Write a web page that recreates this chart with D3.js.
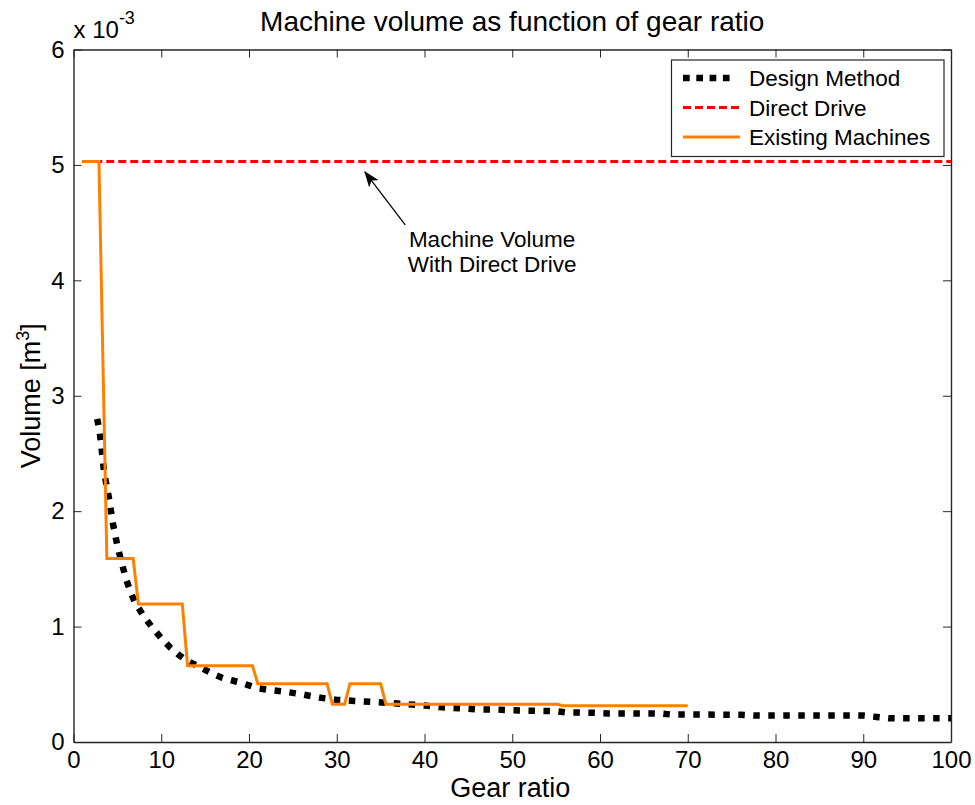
<!DOCTYPE html>
<html>
<head>
<meta charset="utf-8">
<script src="https://cdn.jsdelivr.net/npm/d3@7"></script>
<style>
  html, body { margin: 0; padding: 0; background: #fff; }
  svg { display: block; font-family: "Liberation Sans", Arial, Helvetica, sans-serif; }
</style>
</head>
<body>
<svg id="chart" width="975" height="805"></svg>
<script>
// Volumes are given in units of 1e-3 m^3 (axis multiplier shown at top-left).

// Design Method curve
const designGear = [2.7, 3, 3.5, 4, 4.5, 5, 5.5, 6, 6.5, 7, 7.5, 8, 9, 10, 11, 12, 13, 14, 15, 16, 17, 18, 19, 20,
  21, 22, 24, 26, 28, 30, 32, 34, 36, 38, 40, 42, 44, 46, 48, 50, 52, 55, 56, 59, 61, 67, 68, 76, 77.5, 90, 91.5, 93, 100];
const designVolume = [2.80, 2.68, 2.33, 2.13, 1.89, 1.70, 1.55, 1.41, 1.30, 1.21, 1.15, 1.09, 0.99, 0.90, 0.82, 0.755,
  0.70, 0.665, 0.625, 0.585, 0.555, 0.535, 0.515, 0.49, 0.465, 0.455, 0.437, 0.413, 0.385, 0.365, 0.356, 0.347, 0.339,
  0.327, 0.316, 0.300, 0.293, 0.283, 0.282, 0.275, 0.271, 0.267, 0.257, 0.254, 0.248, 0.247, 0.239, 0.236, 0.229,
  0.229, 0.217, 0.205, 0.205];

// Direct Drive reference level
const directGear = [1, 100];
const directVolume = [5.03, 5.03];

// Existing Machines (stepwise)
const existingGear = [1, 2.9, 3.8, 6.8, 7.4, 12.4, 13.0, 20.4, 21.0, 28.9, 29.5, 30.9, 31.5, 35.0, 35.6, 55.2, 55.7, 70];
const existingVolume = [5.03, 5.03, 1.59, 1.59, 1.195, 1.195, 0.66, 0.66, 0.505, 0.505, 0.326, 0.326, 0.505, 0.505,
  0.326, 0.326, 0.314, 0.314];

// Axis ticks
const xTicks = [0, 10, 20, 30, 40, 50, 60, 70, 80, 90, 100];
const yTicks = [0, 1, 2, 3, 4, 5, 6];

const legendLabels = ["Design Method", "Direct Drive", "Existing Machines"];

const svg = d3.select("#chart");
const plotLeft = 73.5, plotRight = 951, plotTop = 49.5, plotBottom = 742;

const x = d3.scaleLinear().domain([0, 100]).range([plotLeft, plotRight]);
const y = d3.scaleLinear().domain([0, 6]).range([plotBottom, plotTop]);

const zip = (xs, ys) => xs.map((g, i) => [g, ys[i]]);
const line = d3.line().x(d => x(d[0])).y(d => y(d[1]));

// Axes with inward ticks on all four sides
const tickLen = 8;
const axisStyle = g => {
  g.select(".domain").attr("stroke", "#262626").attr("stroke-width", 1.4);
  g.selectAll(".tick line").attr("stroke", "#262626").attr("stroke-width", 1);
  g.selectAll(".tick text").attr("fill", "#000").style("font-size", "24px")
    .style("font-family", "'Liberation Sans', Arial, Helvetica, sans-serif");
};

svg.append("g").attr("transform", `translate(0,${plotBottom})`)
  .call(d3.axisBottom(x).tickValues(xTicks).tickFormat(d3.format("d"))
    .tickSize(-tickLen).tickPadding(9).tickSizeOuter(0))
  .call(axisStyle);
svg.append("g").attr("transform", `translate(0,${plotTop})`)
  .call(d3.axisTop(x).tickValues(xTicks).tickSize(-tickLen).tickFormat("").tickSizeOuter(0))
  .call(axisStyle);
svg.append("g").attr("transform", `translate(${plotLeft},0)`)
  .call(d3.axisLeft(y).tickValues(yTicks).tickFormat(d3.format("d"))
    .tickSize(-tickLen).tickPadding(9).tickSizeOuter(0))
  .call(axisStyle);
svg.append("g").attr("transform", `translate(${plotRight},0)`)
  .call(d3.axisRight(y).tickValues(yTicks).tickSize(-tickLen).tickFormat("").tickSizeOuter(0))
  .call(axisStyle);

// Data lines
svg.append("path").datum(zip(directGear, directVolume))
  .attr("d", line).attr("fill", "none").attr("stroke", "#ff0000")
  .attr("stroke-width", 3).attr("stroke-dasharray", "8 4");

svg.append("path").datum(zip(designGear, designVolume))
  .attr("d", line).attr("fill", "none").attr("stroke", "#000")
  .attr("stroke-width", 6.5).attr("stroke-dasharray", "6.5 8.5");

svg.append("path").datum(zip(existingGear, existingVolume))
  .attr("d", line).attr("fill", "none").attr("stroke", "#ff8000")
  .attr("stroke-width", 3).attr("stroke-linejoin", "miter");

// Annotation arrow pointing to the direct drive level
const defs = svg.append("defs");
defs.append("marker").attr("id", "arrowhead")
  .attr("viewBox", "0 0 16 12").attr("refX", 15).attr("refY", 6)
  .attr("markerWidth", 16).attr("markerHeight", 12)
  .attr("markerUnits", "userSpaceOnUse").attr("orient", "auto")
  .append("path").attr("d", "M0,0 L16,6 L0,12 L4,6 Z").attr("fill", "#000");

svg.append("line")
  .attr("x1", x(37.8)).attr("y1", y(4.48))
  .attr("x2", x(33.2)).attr("y2", y(4.94))
  .attr("stroke", "#000").attr("stroke-width", 1.3)
  .attr("marker-end", "url(#arrowhead)");

const note = svg.append("text").attr("text-anchor", "middle").style("font-size", "22.5px").attr("fill", "#000");
note.append("tspan").attr("x", x(47.7)).attr("y", y(4.29)).text("Machine Volume");
note.append("tspan").attr("x", x(47.7)).attr("y", y(4.075)).text("With Direct Drive");

// Title and axis labels
svg.append("text").attr("x", (plotLeft + plotRight) / 2).attr("y", 31).attr("text-anchor", "middle")
  .style("font-size", "28px").text("Machine volume as function of gear ratio");

svg.append("text").attr("x", (plotLeft + plotRight) / 2 - 2).attr("y", 797).attr("text-anchor", "middle")
  .style("font-size", "27px").text("Gear ratio");

const yl = svg.append("text").attr("transform", `translate(40,${(plotTop + plotBottom) / 2}) rotate(-90)`)
  .attr("text-anchor", "middle").style("font-size", "27px");
yl.append("tspan").text("Volume [m");
yl.append("tspan").attr("dy", -11).style("font-size", "18px").text("3");
yl.append("tspan").attr("dy", 11).text("]");

// Exponent multiplier
const mult = svg.append("text").attr("x", plotLeft).attr("y", 38).style("font-size", "24px");
mult.append("tspan").text("x 10");
mult.append("tspan").attr("dy", -14).style("font-size", "18px").text("-3");

// Legend
const lg = svg.append("g");
lg.append("rect").attr("x", 671.5).attr("y", 60).attr("width", 272.5).attr("height", 96.5)
  .attr("fill", "#fff").attr("stroke", "#262626").attr("stroke-width", 1.2);
const rowY = [78, 107.5, 137];
const sampleStyles = [
  { stroke: "#000", width: 6.5, dash: "6.7 6.6" },
  { stroke: "#ff0000", width: 3, dash: "8 4" },
  { stroke: "#ff8000", width: 3, dash: null }
];
legendLabels.forEach((label, i) => {
  const s = sampleStyles[i];
  lg.append("line").attr("x1", 683).attr("x2", i === 0 ? 730 : 740).attr("y1", rowY[i]).attr("y2", rowY[i])
    .attr("stroke", s.stroke).attr("stroke-width", s.width)
    .attr("stroke-dasharray", s.dash);
  lg.append("text").attr("x", 749).attr("y", rowY[i] + 8).style("font-size", "22.5px").text(label);
});
</script>
</body>
</html>
